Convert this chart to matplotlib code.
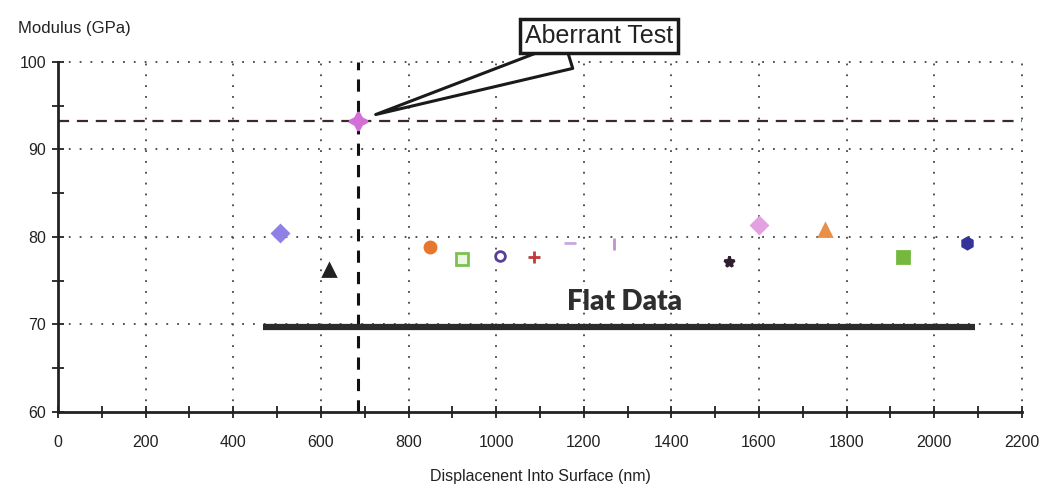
import numpy as np
from matplotlib import pyplot as plt
from matplotlib.ticker import MultipleLocator

plt.rcParams['font.family'] = ['Liberation Sans', 'DejaVu Sans']

# indentation tests: displacement (nm) and modulus (GPa)
disp = [507, 618, 684, 849, 922, 1009, 1086, 1168, 1269, 1531, 1600, 1750, 1928, 2074]
modulus = [80.5, 76.2, 93.2, 78.9, 77.5, 77.8, 77.7, 79.3, 79.2, 77.1, 81.4, 80.8, 77.7, 79.3]
markers = ['D', '^', (4, 1, 0), 'o', 's', 'o', '+', '_', '|', '*', 'D', '^', 's', 'h']
colors = ['#8f80e6', '#222222', '#d36fd6', '#e8772e', '#7cc050', '#5a3f9a', '#c03a3a',
          '#c8a8e0', '#c090d0', '#2e1e2e', '#e3a0e3', '#e8904a', '#74b83e', '#33339a']
hollow = [False, False, False, False, True, True, False, False, False, False, False, False, False, False]

aberrant_x = 684
aberrant_y = 93.2
flat_start, flat_end, flat_level = 468, 2093, 69.7

fig = plt.figure(figsize=(10.47, 4.94), dpi=100)
ax = fig.add_axes([0.0554, 0.166, 0.9206, 0.7085])

# grid
for gx in range(200, 2201, 200):
    ax.plot([gx, gx], [60, 100], ls=(0, (1, 5)), color='#444444', lw=1.3, clip_on=False, zorder=1)
for gy in [70, 80, 90, 100]:
    ax.plot([0, 2200], [gy, gy], ls=(0, (1, 5)), color='#444444', lw=1.3, clip_on=False, zorder=1)

# reference lines through the aberrant test
ax.axhline(aberrant_y, ls=(0, (5, 3.5)), color='#3a2a2a', lw=1.6, zorder=2)
ax.axvline(aberrant_x, ls=(0, (4, 3)), color='#111111', lw=2.2, zorder=2)

for x, y, m, c, h in zip(disp, modulus, markers, colors, hollow):
    ms = 8
    if m == 'D':
        ms = 8
    if m in ['+', '_', '|']:
        ms = 9
    if m == (4, 1, 0):
        ms = 13
    if h:
        ax.plot(x, y, marker=m, ms=9 if m == 's' else 7, mfc='#eef6e6' if m == 's' else 'none',
                mec=c, mew=2, ls='none', zorder=4)
    else:
        ax.plot(x, y, marker=m, ms=ms, color=c, mew=2, ls='none', zorder=4)

ax.plot([flat_start, flat_end], [flat_level, flat_level], color='#2b2b2b', lw=4.5,
        solid_capstyle='butt', zorder=3)
ax.text(1294, 72.6, 'Flat Data', fontsize=20, fontweight='heavy', family='Lato',
        color='#2e2e2e', ha='center', va='center')

ax.annotate('Aberrant Test', xy=(aberrant_x + 35, aberrant_y + 0.7), xytext=(1235, 102.95),
            fontsize=18, color='#222222', ha='center', va='center', annotation_clip=False,
            bbox=dict(boxstyle='square,pad=0.2', fc='white', ec='#1a1a1a', lw=2.5),
            arrowprops=dict(arrowstyle='wedge,tail_width=1.1,shrink_factor=0.5',
                            relpos=(0.45, 0.0), fc='white', ec='#1a1a1a', lw=2.2))

ax.set_xlim(0, 2200)
ax.set_ylim(60, 100)
ax.xaxis.set_major_locator(MultipleLocator(200))
ax.xaxis.set_minor_locator(MultipleLocator(100))
ax.yaxis.set_major_locator(MultipleLocator(10))
ax.yaxis.set_minor_locator(MultipleLocator(5))
ax.tick_params(which='both', direction='inout', length=9, width=1.3, color='#222222')
ax.tick_params(axis='both', labelsize=11.5, colors='#222222', pad=12)
ax.tick_params(axis='y', pad=4)

for s in ['top', 'right']:
    ax.spines[s].set_visible(False)
for s in ['left', 'bottom']:
    ax.spines[s].set_linewidth(2)
    ax.spines[s].set_color('#222222')

ax.set_xlabel('Displacenent Into Surface (nm)', fontsize=11.5, color='#222222', labelpad=14)
fig.text(0.017, 0.943, 'Modulus (GPa)', fontsize=12, color='#222222', ha='left', va='center')

fig.savefig('out.png', dpi=100)
